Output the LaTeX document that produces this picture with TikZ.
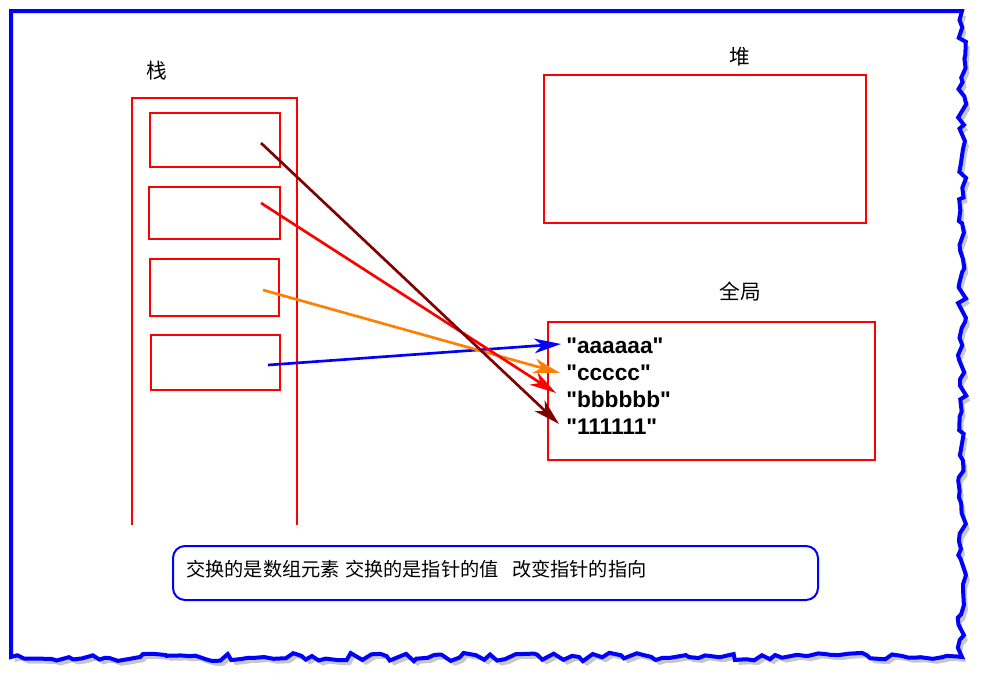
\documentclass[tikz,border=0pt]{standalone}
\usepackage{fontspec}
\setmainfont{Liberation Sans}
\newfontfamily\strfont{Liberation Sans}
\newfontfamily\cjk{Noto Sans CJK SC}
\usetikzlibrary{arrows.meta,decorations.pathmorphing}
\definecolor{darkred}{RGB}{128,0,0}
\definecolor{ptrorange}{RGB}{255,128,0}
\begin{document}
\begin{tikzpicture}[x=0.75pt,y=-0.75pt,
  redbox/.style={draw=red,line width=1.5pt},
  lbl/.style={font=\cjk\fontsize{15.5}{18}\selectfont,inner sep=0pt},
  note/.style={font=\cjk\fontsize{14.4}{17}\selectfont,inner sep=0pt},
  str/.style={font=\strfont\bfseries\fontsize{17}{20}\selectfont,anchor=base west,inner sep=0pt},
  ptr/.style={line width=2pt,-{Stealth[length=20pt,width=11pt,inset=6pt]}},
  torn/.style={decoration={random steps,segment length=6pt,amplitude=3.2pt}}
]
\useasboundingbox (0,0) rectangle (986,682);
% frame shadow
\pgfmathsetseed{42}
\fill[black!22, shift={(4,5)}] (11,11) -- (962,11) decorate[torn]{-- (962,657) -- (11,657)} -- cycle;
\pgfmathsetseed{42}
\fill[white] (11,11) -- (962,11) decorate[torn]{-- (962,657) -- (11,657)} -- cycle;
\pgfmathsetseed{42}
\draw[blue, line width=3pt] (11,11) -- (962,11) decorate[torn]{-- (962,657) -- (11,657)} -- cycle;

% labels
\node[lbl] (lstack) at (157,71) {栈};
\node[lbl] (lheap) at (740,57) {堆};
\node[lbl] (lglobal) at (740,292) {全局};

% stack
\draw[redbox] (132,525) -- (132,98) -- (297,98) -- (297,525);
\draw[redbox] (150,113) rectangle (280,167);
\draw[redbox] (149,187) rectangle (280,239);
\draw[redbox] (150,259) rectangle (279,316);
\draw[redbox] (151,335) rectangle (280,390);

% heap and global
\draw[redbox] (544,75) rectangle (866,223);
\draw[redbox] (548,322) rectangle (875,460);

% strings
\node[str] (sa) at (566,353) {"aaaaaa"};
\node[str] (sc) at (566,380) {"ccccc"};
\node[str] (sb) at (566,407) {"bbbbbb"};
\node[str] (s1) at (566,434) {"111111"};

% pointer coordinates
\coordinate (p1) at (261,143);
\coordinate (p2) at (261,203);
\coordinate (p3) at (263,290);
\coordinate (p4) at (268,365);
\coordinate (e1) at (559,424);
\coordinate (e2) at (556,393);
\coordinate (e3) at (560,373);
\coordinate (e4) at (561,344);

\draw[ptr,blue] (p4) -- (e4);
\draw[ptr,ptrorange] (p3) -- (e3);
\draw[ptr,red] (p2) -- (e2);
\draw[ptr,darkred] (p1) -- (e1);

% note box
\draw[blue,line width=1.5pt,rounded corners=9pt] (173,546) rectangle (818,600);
\node[note,anchor=west] (notetext) at (186,569) {交换的是数组元素\hspace{4pt}交换的是指针的值\hspace{10pt}改变指针的指向};
\end{tikzpicture}
\end{document}
